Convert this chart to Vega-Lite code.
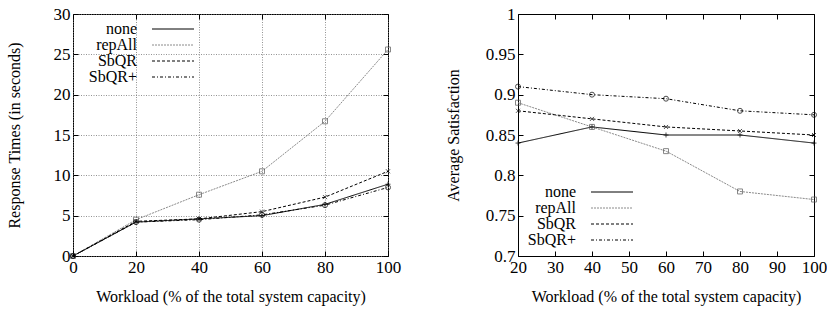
{
  "$schema": "https://vega.github.io/schema/vega-lite/v6.json",
  "background": "white",
  "padding": {"top": 4, "left": 5, "right": 3, "bottom": 5},
  "spacing": 42,
  "config": {
    "font": "Liberation Serif",
    "view": {"stroke": "black", "strokeWidth": 1},
    "axis": {
      "domain": false,
      "grid": false,
      "labelFont": "Liberation Serif",
      "labelFontSize": 17,
      "labelColor": "black",
      "titleFont": "Liberation Serif",
      "titleFontSize": 16,
      "titleFontWeight": "normal",
      "titleColor": "black",
      "tickColor": "black",
      "tickSize": -5,
      "labelPadding": 8,
      "labelFlush": false,
      "labelOverlap": false
    },
    "legend": {
      "labelFont": "Liberation Serif",
      "labelFontSize": 16,
      "labelColor": "black",
      "symbolType": "M-3,0H3",
      "symbolSize": 196,
      "symbolStrokeWidth": 1,
      "labelAlign": "right",
      "labelOffset": -44,
      "rowPadding": 0,
      "padding": 0
    }
  },
  "datasets": {
    "rt": [
      {"workload": 0, "series": "none", "value": 0},
      {"workload": 20, "series": "none", "value": 4.2},
      {"workload": 40, "series": "none", "value": 4.6},
      {"workload": 60, "series": "none", "value": 5.0},
      {"workload": 80, "series": "none", "value": 6.4},
      {"workload": 100, "series": "none", "value": 8.9},
      {"workload": 0, "series": "repAll", "value": 0},
      {"workload": 20, "series": "repAll", "value": 4.5},
      {"workload": 40, "series": "repAll", "value": 7.6},
      {"workload": 60, "series": "repAll", "value": 10.5},
      {"workload": 80, "series": "repAll", "value": 16.7},
      {"workload": 100, "series": "repAll", "value": 25.6},
      {"workload": 0, "series": "SbQR", "value": 0},
      {"workload": 20, "series": "SbQR", "value": 4.3},
      {"workload": 40, "series": "SbQR", "value": 4.6},
      {"workload": 60, "series": "SbQR", "value": 5.5},
      {"workload": 80, "series": "SbQR", "value": 7.3},
      {"workload": 100, "series": "SbQR", "value": 10.5},
      {"workload": 0, "series": "SbQR+", "value": 0},
      {"workload": 20, "series": "SbQR+", "value": 4.2},
      {"workload": 40, "series": "SbQR+", "value": 4.5},
      {"workload": 60, "series": "SbQR+", "value": 5.1},
      {"workload": 80, "series": "SbQR+", "value": 6.3},
      {"workload": 100, "series": "SbQR+", "value": 8.5}
    ],
    "sat": [
      {"workload": 20, "series": "none", "value": 0.84},
      {"workload": 40, "series": "none", "value": 0.86},
      {"workload": 60, "series": "none", "value": 0.85},
      {"workload": 80, "series": "none", "value": 0.85},
      {"workload": 100, "series": "none", "value": 0.84},
      {"workload": 20, "series": "repAll", "value": 0.89},
      {"workload": 40, "series": "repAll", "value": 0.86},
      {"workload": 60, "series": "repAll", "value": 0.83},
      {"workload": 80, "series": "repAll", "value": 0.78},
      {"workload": 100, "series": "repAll", "value": 0.77},
      {"workload": 20, "series": "SbQR", "value": 0.88},
      {"workload": 40, "series": "SbQR", "value": 0.87},
      {"workload": 60, "series": "SbQR", "value": 0.86},
      {"workload": 80, "series": "SbQR", "value": 0.855},
      {"workload": 100, "series": "SbQR", "value": 0.85},
      {"workload": 20, "series": "SbQR+", "value": 0.91},
      {"workload": 40, "series": "SbQR+", "value": 0.90},
      {"workload": 60, "series": "SbQR+", "value": 0.895},
      {"workload": 80, "series": "SbQR+", "value": 0.88},
      {"workload": 100, "series": "SbQR+", "value": 0.875}
    ]
  },
  "hconcat": [
    {
      "width": 315,
      "height": 242,
      "data": {"name": "rt"},
      "layer": [
        {
          "mark": {"type": "line", "strokeWidth": 1},
          "encoding": {
            "x": {"field": "workload", "type": "quantitative", "scale": {"domain": [0, 100], "nice": false},
                  "axis": {"orient": "bottom", "values": [0, 20, 40, 60, 80, 100], "title": "Workload (% of the total system capacity)", "titlePadding": 13, "grid": true, "gridColor": "#777", "gridDash": [1, 1.5], "gridWidth": 0.8}},
            "y": {"field": "value", "type": "quantitative", "scale": {"domain": [0, 30], "nice": false},
                  "axis": {"orient": "left", "values": [0, 5, 10, 15, 20, 25, 30], "title": "Response Times (in seconds)", "titlePadding": 31, "grid": true, "gridColor": "#777", "gridDash": [1, 1.5], "gridWidth": 0.8}},
            "color": {"field": "series", "type": "nominal", "sort": ["none", "repAll", "SbQR", "SbQR+"],
                      "scale": {"domain": ["none", "repAll", "SbQR", "SbQR+"], "range": ["black", "#8a8a8a", "black", "black"]},
                      "legend": {"title": null, "orient": "none", "legendX": 92, "legendY": 7}},
            "strokeDash": {"field": "series", "type": "nominal", "sort": ["none", "repAll", "SbQR", "SbQR+"],
                      "scale": {"domain": ["none", "repAll", "SbQR", "SbQR+"], "range": [[1, 0], [2, 1], [3, 2], [3, 2, 1, 2]]},
                      "legend": {"title": null, "orient": "none", "legendX": 92, "legendY": 7}}
          }
        },
        {
          "transform": [{"filter": "datum.series === 'none'"}],
          "mark": {"type": "point", "shape": "M-1,0L1,0M0,-1L0,1", "filled": false, "strokeWidth": 1, "size": 25, "color": "black"},
          "encoding": {
            "x": {"field": "workload", "type": "quantitative", "axis": null},
            "y": {"field": "value", "type": "quantitative", "axis": null}
          }
        },
        {
          "transform": [{"filter": "datum.series === 'repAll'"}],
          "mark": {"type": "point", "shape": "square", "filled": false, "strokeWidth": 1, "size": 25, "color": "#555"},
          "encoding": {
            "x": {"field": "workload", "type": "quantitative", "axis": null},
            "y": {"field": "value", "type": "quantitative", "axis": null}
          }
        },
        {
          "transform": [{"filter": "datum.series === 'SbQR'"}],
          "mark": {"type": "point", "shape": "M-0.8,-0.8L0.8,0.8M0.8,-0.8L-0.8,0.8", "filled": false, "strokeWidth": 1, "size": 25, "color": "black"},
          "encoding": {
            "x": {"field": "workload", "type": "quantitative", "axis": null},
            "y": {"field": "value", "type": "quantitative", "axis": null}
          }
        },
        {
          "transform": [{"filter": "datum.series === 'SbQR+'"}],
          "mark": {"type": "point", "shape": "circle", "filled": false, "strokeWidth": 1, "size": 25, "color": "black"},
          "encoding": {
            "x": {"field": "workload", "type": "quantitative", "axis": null},
            "y": {"field": "value", "type": "quantitative", "axis": null}
          }
        },
        {
          "mark": {"type": "point", "opacity": 0},
          "encoding": {
            "x": {"field": "workload", "type": "quantitative", "axis": {"orient": "top", "values": [0, 20, 40, 60, 80, 100], "labels": false, "title": null}},
            "y": {"field": "value", "type": "quantitative", "axis": {"orient": "right", "values": [0, 5, 10, 15, 20, 25, 30], "labels": false, "title": null}}
          }
        }
      ],
      "resolve": {"axis": {"x": "independent", "y": "independent"}}
    },
    {
      "width": 296,
      "height": 242,
      "data": {"name": "sat"},
      "layer": [
        {
          "mark": {"type": "line", "strokeWidth": 1},
          "encoding": {
            "x": {"field": "workload", "type": "quantitative", "scale": {"domain": [20, 100], "nice": false},
                  "axis": {"orient": "bottom", "values": [20, 30, 40, 50, 60, 70, 80, 90, 100], "title": "Workload (% of the total system capacity)", "titlePadding": 13}},
            "y": {"field": "value", "type": "quantitative", "scale": {"domain": [0.7, 1], "nice": false},
                  "axis": {"orient": "left", "values": [0.7, 0.75, 0.8, 0.85, 0.9, 0.95, 1], "format": ".2~f", "title": "Average Satisfaction", "titlePadding": 24}},
            "color": {"field": "series", "type": "nominal", "sort": ["none", "repAll", "SbQR", "SbQR+"],
                      "scale": {"domain": ["none", "repAll", "SbQR", "SbQR+"], "range": ["black", "#8a8a8a", "black", "black"]},
                      "legend": {"title": null, "orient": "none", "legendX": 86, "legendY": 170}},
            "strokeDash": {"field": "series", "type": "nominal", "sort": ["none", "repAll", "SbQR", "SbQR+"],
                      "scale": {"domain": ["none", "repAll", "SbQR", "SbQR+"], "range": [[1, 0], [2, 1], [3, 2], [3, 2, 1, 2]]},
                      "legend": {"title": null, "orient": "none", "legendX": 86, "legendY": 170}}
          }
        },
        {
          "transform": [{"filter": "datum.series === 'none'"}],
          "mark": {"type": "point", "shape": "M-1,0L1,0M0,-1L0,1", "filled": false, "strokeWidth": 1, "size": 25, "color": "black"},
          "encoding": {
            "x": {"field": "workload", "type": "quantitative", "axis": null},
            "y": {"field": "value", "type": "quantitative", "axis": null}
          }
        },
        {
          "transform": [{"filter": "datum.series === 'repAll'"}],
          "mark": {"type": "point", "shape": "square", "filled": false, "strokeWidth": 1, "size": 25, "color": "#555"},
          "encoding": {
            "x": {"field": "workload", "type": "quantitative", "axis": null},
            "y": {"field": "value", "type": "quantitative", "axis": null}
          }
        },
        {
          "transform": [{"filter": "datum.series === 'SbQR'"}],
          "mark": {"type": "point", "shape": "M-0.8,-0.8L0.8,0.8M0.8,-0.8L-0.8,0.8", "filled": false, "strokeWidth": 1, "size": 25, "color": "black"},
          "encoding": {
            "x": {"field": "workload", "type": "quantitative", "axis": null},
            "y": {"field": "value", "type": "quantitative", "axis": null}
          }
        },
        {
          "transform": [{"filter": "datum.series === 'SbQR+'"}],
          "mark": {"type": "point", "shape": "circle", "filled": false, "strokeWidth": 1, "size": 25, "color": "black"},
          "encoding": {
            "x": {"field": "workload", "type": "quantitative", "axis": null},
            "y": {"field": "value", "type": "quantitative", "axis": null}
          }
        },
        {
          "mark": {"type": "point", "opacity": 0},
          "encoding": {
            "x": {"field": "workload", "type": "quantitative", "axis": {"orient": "top", "values": [20, 30, 40, 50, 60, 70, 80, 90, 100], "labels": false, "title": null}},
            "y": {"field": "value", "type": "quantitative", "axis": {"orient": "right", "values": [0.7, 0.75, 0.8, 0.85, 0.9, 0.95, 1], "labels": false, "title": null}}
          }
        }
      ],
      "resolve": {"axis": {"x": "independent", "y": "independent"}}
    }
  ],
  "resolve": {"scale": {"color": "independent", "strokeDash": "independent"}, "legend": {"color": "independent", "strokeDash": "independent"}}
}
